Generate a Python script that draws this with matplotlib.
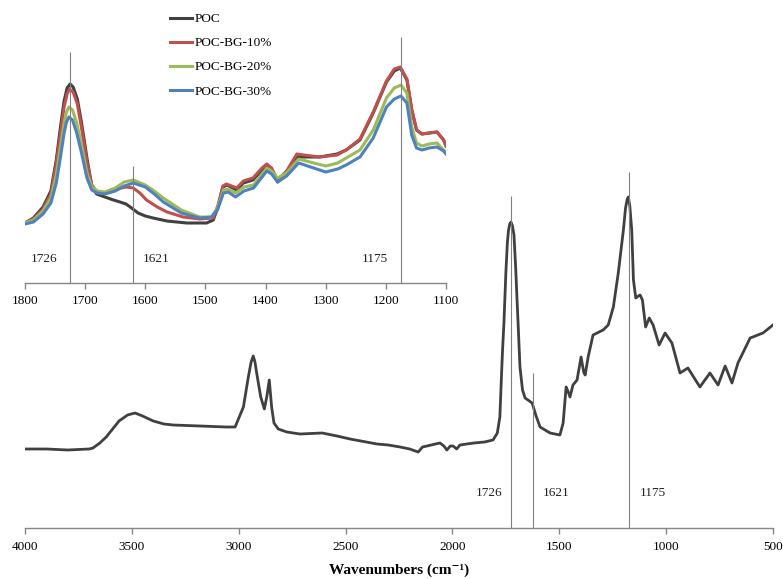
import numpy as np
import matplotlib.pyplot as plt

plt.rcParams['font.family'] = ['Liberation Serif', 'DejaVu Serif']

# ----------------------------- DATA -----------------------------------
# full spectrum of POC (arbitrary absorbance units)
wn_main = [4000, 3900, 3800, 3700, 3682, 3650, 3620, 3560, 3520, 3485, 3450, 3400,
           3350, 3307, 3181, 3060, 3017, 2978, 2955, 2942, 2932, 2924, 2916, 2897,
           2880, 2868, 2857, 2846, 2835, 2815, 2775, 2713, 2610, 2540, 2479, 2353,
           2300, 2245, 2200, 2160, 2140, 2119, 2080, 2058, 2040, 2026, 2010, 1997,
           1980, 1965, 1900, 1850, 1810, 1790, 1778, 1770, 1765, 1759, 1750, 1743,
           1738, 1732, 1726, 1719, 1712, 1704, 1698, 1692, 1684, 1672, 1660, 1640,
           1627, 1610, 1590, 1543, 1497, 1482, 1468, 1458, 1450, 1436, 1417, 1398,
           1386, 1379, 1365, 1342, 1295, 1271, 1247, 1224, 1200, 1190, 1182, 1177,
           1170, 1161, 1153, 1142, 1130, 1122, 1111, 1096, 1079, 1061, 1033, 1005,
           973, 935, 898, 842, 795, 757, 724, 692, 664, 607, 547, 500]
abs_main = [0.79, 0.79, 0.78, 0.79, 0.80, 0.85, 0.91, 1.07, 1.13, 1.15, 1.12, 1.07,
            1.04, 1.03, 1.02, 1.01, 1.01, 1.21, 1.51, 1.66, 1.72, 1.66, 1.55, 1.31,
            1.19, 1.32, 1.48, 1.21, 1.05, 0.99, 0.96, 0.94, 0.95, 0.92, 0.89, 0.84,
            0.83, 0.81, 0.79, 0.76, 0.81, 0.82, 0.84, 0.85, 0.82, 0.78, 0.82, 0.82,
            0.79, 0.83, 0.85, 0.86, 0.88, 0.95, 1.11, 1.55, 1.80, 2.05, 2.55, 2.85,
            2.97, 3.04, 3.06, 3.02, 2.93, 2.60, 2.30, 2.01, 1.61, 1.38, 1.30, 1.27,
            1.25, 1.13, 1.01, 0.95, 0.93, 1.05, 1.41, 1.36, 1.31, 1.43, 1.48, 1.71,
            1.56, 1.53, 1.71, 1.93, 1.98, 2.03, 2.21, 2.55, 2.98, 3.20, 3.29, 3.31,
            3.22, 2.98, 2.48, 2.30, 2.32, 2.33, 2.28, 2.01, 2.10, 2.03, 1.83, 1.95,
            1.85, 1.55, 1.60, 1.41, 1.55, 1.43, 1.62, 1.45, 1.65, 1.90, 1.95, 2.03]

# zoomed region 1800-1100 for the four samples
wn_poc = [1800, 1786, 1770, 1757, 1748, 1741, 1735, 1730, 1725, 1720, 1713, 1706,
          1697, 1689, 1681, 1667, 1653, 1642, 1632, 1625, 1612, 1600, 1587, 1564,
          1531, 1498, 1487, 1479, 1471, 1464, 1448, 1437, 1421, 1406, 1398, 1390,
          1380, 1365, 1348, 1337, 1310, 1281, 1266, 1243, 1221, 1199, 1186, 1176,
          1165, 1157, 1149, 1140, 1128, 1115, 1104, 1100]
abs_poc = [0.60, 0.65, 0.76, 0.92, 1.23, 1.56, 1.82, 1.95, 1.99, 1.96, 1.84, 1.60,
           1.25, 0.97, 0.89, 0.86, 0.83, 0.81, 0.79, 0.76, 0.70, 0.67, 0.65, 0.62,
           0.60, 0.60, 0.63, 0.76, 0.96, 0.98, 0.93, 1.00, 1.03, 1.13, 1.16, 1.13,
           1.01, 1.10, 1.26, 1.26, 1.26, 1.29, 1.33, 1.43, 1.70, 2.01, 2.12, 2.15,
           2.03, 1.73, 1.53, 1.49, 1.50, 1.51, 1.43, 1.37]

wn_bg10 = [1800, 1786, 1770, 1757, 1748, 1741, 1735, 1730, 1726, 1720, 1713, 1706,
           1697, 1689, 1680, 1667, 1653, 1640, 1631, 1620, 1609, 1598, 1580, 1564,
           1537, 1509, 1487, 1479, 1471, 1465, 1448, 1437, 1421, 1406, 1398, 1390,
           1380, 1365, 1348, 1337, 1310, 1281, 1266, 1243, 1221, 1199, 1186, 1176,
           1165, 1157, 1149, 1140, 1128, 1115, 1104, 1100]
abs_bg10 = [0.60, 0.64, 0.74, 0.89, 1.19, 1.50, 1.76, 1.89, 1.94, 1.91, 1.79, 1.55,
            1.21, 0.98, 0.91, 0.90, 0.93, 0.95, 0.96, 0.95, 0.90, 0.83, 0.76, 0.71,
            0.66, 0.64, 0.65, 0.78, 0.97, 0.99, 0.95, 1.02, 1.05, 1.15, 1.19, 1.15,
            1.03, 1.12, 1.29, 1.28, 1.26, 1.28, 1.33, 1.44, 1.71, 2.02, 2.14, 2.16,
            2.04, 1.74, 1.53, 1.49, 1.50, 1.51, 1.43, 1.37]

wn_bg = [1800, 1786, 1770, 1757, 1748, 1741, 1735, 1731, 1727, 1721, 1714, 1706,
         1697, 1689, 1680, 1667, 1650, 1635, 1620, 1600, 1585, 1570, 1540, 1510,
         1490, 1480, 1470, 1462, 1450, 1436, 1420, 1398, 1390, 1380, 1365, 1345,
         1320, 1300, 1280, 1266, 1243, 1221, 1199, 1186, 1175, 1165, 1157, 1149,
         1140, 1128, 1115, 1104, 1100]
abs_bg20 = [0.60, 0.63, 0.72, 0.85, 1.08, 1.36, 1.60, 1.71, 1.76, 1.73, 1.60, 1.38,
            1.10, 0.96, 0.92, 0.91, 0.95, 1.01, 1.03, 0.98, 0.92, 0.85, 0.73, 0.66,
            0.66, 0.75, 0.93, 0.94, 0.90, 0.96, 0.98, 1.15, 1.12, 1.05, 1.10, 1.24,
            1.20, 1.17, 1.20, 1.25, 1.33, 1.53, 1.85, 1.95, 1.98, 1.90, 1.56, 1.40,
            1.37, 1.39, 1.40, 1.33, 1.30]
abs_bg30 = [0.59, 0.61, 0.69, 0.80, 1.00, 1.26, 1.50, 1.61, 1.66, 1.63, 1.50, 1.30,
            1.05, 0.93, 0.90, 0.89, 0.92, 0.97, 1.00, 0.96, 0.89, 0.81, 0.70, 0.65,
            0.66, 0.73, 0.90, 0.91, 0.86, 0.92, 0.95, 1.12, 1.09, 1.01, 1.07, 1.20,
            1.15, 1.11, 1.14, 1.18, 1.26, 1.45, 1.76, 1.84, 1.87, 1.80, 1.48, 1.35,
            1.33, 1.35, 1.36, 1.32, 1.29]

labels = ["POC", "POC-BG-10%", "POC-BG-20%", "POC-BG-30%"]
colors = ["#404040", "#C0504D", "#9BBB59", "#4F81BD"]

# marked bands
bands = [1726, 1621, 1175]
band_top_main = [3.32, 1.55, 3.56]
band_top_inset = [2.31, 1.17, 2.46]

main_ticks = [4000, 3500, 3000, 2500, 2000, 1500, 1000, 500]
inset_ticks = [1800, 1700, 1600, 1500, 1400, 1300, 1200, 1100]

# ----------------------------- FIGURE ---------------------------------
W, H = 783, 579
fig = plt.figure(figsize=(W / 100, H / 100), dpi=100)

GRAY = "#868686"


def style_axis(ax, ticks, fs):
    for s in ["left", "right", "top"]:
        ax.spines[s].set_visible(False)
    ax.spines["bottom"].set_color(GRAY)
    ax.spines["bottom"].set_linewidth(1.0)
    ax.set_yticks([])
    ax.set_xticks(ticks)
    ax.set_xticklabels([str(t) for t in ticks])
    ax.tick_params(axis="x", direction="out", length=4, width=1.0, color=GRAY,
                   labelsize=fs, pad=5)


# main axes
ax = fig.add_axes([25 / W, (H - 528) / H, (773 - 25) / W, (528 - 150) / H])
ax.plot(wn_main, abs_main, color="#404040", lw=2.0, solid_joinstyle="round")
ax.set_xlim(4000, 500)
ax.set_ylim(0, 3.78)
style_axis(ax, main_ticks, 9.5)
ax.set_xlabel("Wavenumbers (cm\u207b\u00b9)", fontsize=11, fontweight="bold",
              labelpad=8)

ax.vlines(bands, 0, band_top_main, color="#808080", lw=0.8)
offsets_main = [(-6, "right"), (7, "left"), (8, "left")]
for b, (dx, ha) in zip(bands, offsets_main):
    ax.annotate(str(b), xy=(b, 0.35), xytext=(dx, 0), textcoords="offset points",
                ha=ha, va="center", fontsize=9.5, color="#222222")

# inset
ax_in = fig.add_axes([25 / W, (H - 283) / H, (446 - 25) / W, (283 - 10) / H])
ax_in.patch.set_alpha(0)
series = [(wn_poc, abs_poc), (wn_bg10, abs_bg10), (wn_bg, abs_bg20), (wn_bg, abs_bg30)]
for (x, y), c, lab in zip(series, colors, labels):
    ax_in.plot(x, y, color=c, lw=2.2, label=lab, solid_joinstyle="round")
ax_in.set_xlim(1800, 1100)
ax_in.set_ylim(0, 2.73)
style_axis(ax_in, inset_ticks, 9.5)

ax_in.vlines(bands, 0, band_top_inset, color="#808080", lw=0.8)
offsets_in = [(-9, "right"), (7, "left"), (-9, "right")]
for b, (dx, ha) in zip(bands, offsets_in):
    ax_in.annotate(str(b), xy=(b, 0.24), xytext=(dx, 0), textcoords="offset points",
                   ha=ha, va="center", fontsize=9.5, color="#222222")

ax_in.legend(loc="upper left", bbox_to_anchor=(170 / W, 1 - 13 / H),
             bbox_transform=fig.transFigure, frameon=False, fontsize=9.5,
             handlelength=1.7, handletextpad=0.15, labelspacing=0.9,
             borderpad=0, borderaxespad=0)

fig.savefig("out.png", dpi=100)
